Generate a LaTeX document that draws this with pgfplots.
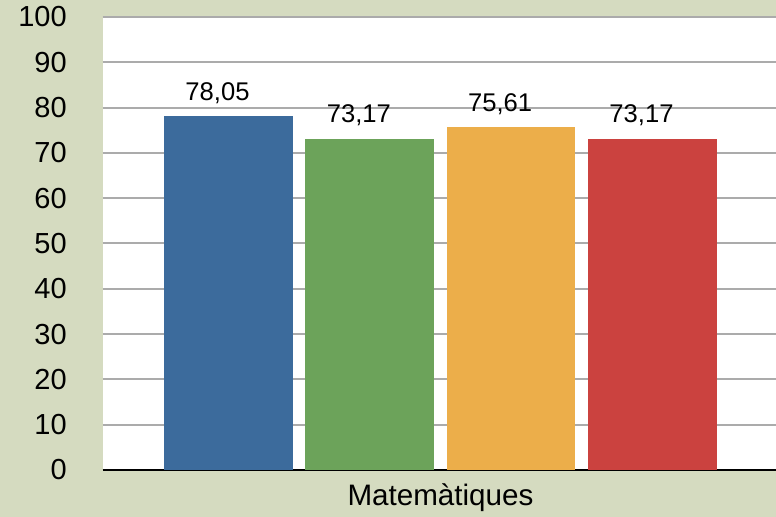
\documentclass[border=0pt]{standalone}
\usepackage{fontspec}
\setmainfont{Liberation Sans}
\usepackage{pgfplots}
\pgfplotsset{compat=1.18}

\definecolor{bgsage}{HTML}{D5DBC0}
\definecolor{gridgray}{HTML}{ABABAB}
\definecolor{barblue}{HTML}{3C6B9C}
\definecolor{bargreen}{HTML}{6CA35A}
\definecolor{barorange}{HTML}{ECAE4A}
\definecolor{barred}{HTML}{CB423F}

\begin{document}
\begin{tikzpicture}
% page background (1px = 0.5pt)
\fill[bgsage] (-51.35pt,-23.5pt) rectangle (336.65pt,235pt);
\begin{axis}[
    at={(0,0)}, anchor=south west,
    scale only axis,
    width=336.65pt, height=226.5pt,
    axis background/.style={fill=white},
    ybar, bar width=64.35pt, bar shift=0pt,
    xmin=-0.89, xmax=3.874,
    ymin=0, ymax=100,
    ytick={0,10,...,100},
    xtick={1.5},
    xticklabels={Matemàtiques},
    major tick length=0pt,
    axis x line*=bottom,
    axis y line*=left,
    x axis line style={black, line width=1.3pt, -},
    y axis line style={draw=none},
    ymajorgrids=true,
    grid style={gridgray, line width=1pt},
    /pgf/number format/assume math mode=true,
    yticklabel style={font=\fontsize{14.5}{17}\selectfont,
        anchor=east, inner sep=0pt, xshift=-17.8pt},
    xticklabel style={font=\fontsize{14.8}{17}\selectfont,
        anchor=base, inner sep=0pt, yshift=-18pt},
    nodes near coords,
    nodes near coords style={font=\fontsize{12.8}{15}\selectfont, anchor=base,
        inner sep=0pt, yshift=7.8pt, xshift=-5.5pt, text=black},
    every node near coord/.append style={/pgf/number format/.cd, fixed,
        precision=2, fixed zerofill, use comma, assume math mode=true},
]
\addplot[fill=barblue, draw=none] coordinates {(0,78.05)};
\addplot[fill=bargreen, draw=none] coordinates {(1,73.17)};
\addplot[fill=barorange, draw=none] coordinates {(2,75.61)};
\addplot[fill=barred, draw=none] coordinates {(3,73.17)};
\end{axis}
\pgfresetboundingbox
\path (-51.35pt,-23.5pt) rectangle (336.65pt,235pt);
\end{tikzpicture}
\end{document}
